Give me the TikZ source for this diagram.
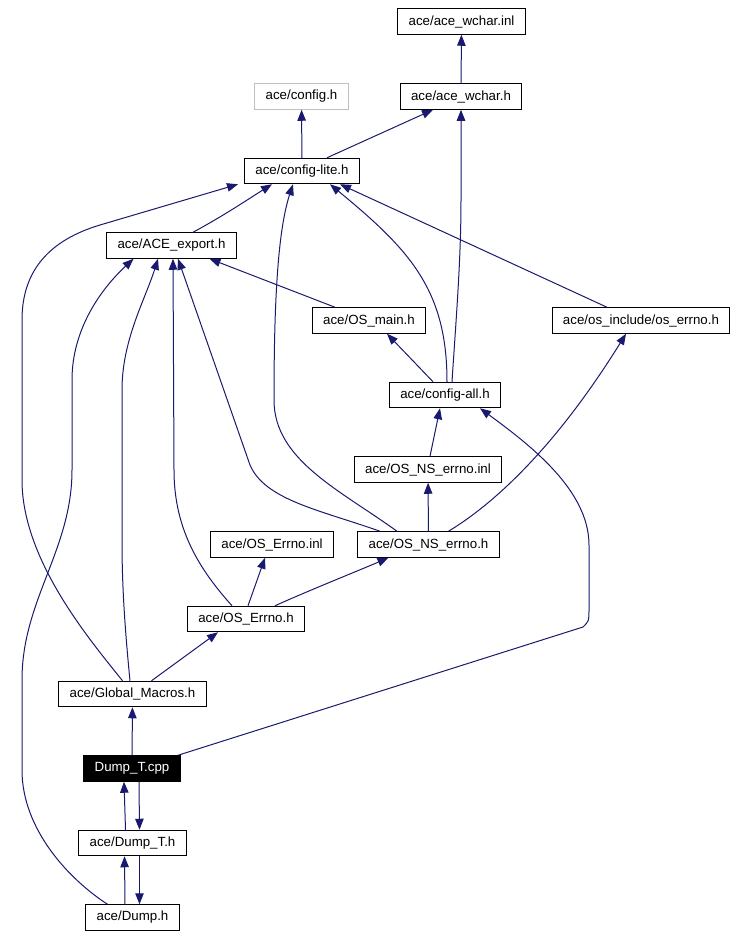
\documentclass[tikz,border=0pt]{standalone}
\usepackage{fontspec}
\setmainfont{Liberation Sans}
\usepackage{tikz}
\usetikzlibrary{arrows.meta,positioning}
\definecolor{incblue}{RGB}{25,25,112}
\definecolor{extgray}{RGB}{191,191,191}
\tikzset{
  file/.style={draw=black,line width=1pt,rectangle,font=\fontsize{13.3}{16}\selectfont,
    inner xsep=10.8pt,inner ysep=0pt,minimum height=25.5pt},
  extfile/.style={file,draw=extgray},
  curfile/.style={file,fill=black,text=white},
  inc/.style={draw=incblue,line width=1pt,-{Triangle[length=11pt,width=8.5pt]}}
}

\begin{document}
\begin{tikzpicture}[x=1pt,y=-1pt]
  \useasboundingbox (0,0) rectangle (738,938);

  \node[file] (wcharinl) at (461.5,21.5) {ace/ace\_wchar.inl};
  \node[file] (wcharh) at (461,96.5) {ace/ace\_wchar.h};
  \node[extfile] (config) at (301.5,96.5) {ace/config.h};
  \node[file] (configlite) at (302,171) {ace/config-lite.h};
  \node[file] (aceexport) at (171.5,245.5) {ace/ACE\_export.h};
  \node[file] (osmain) at (369,320.5) {ace/OS\_main.h};
  \node[file] (oserrno) at (641,320.5) {ace/os\_include/os\_errno.h};
  \node[file] (configall) at (445,395) {ace/config-all.h};
  \node[file] (nserrnoinl) at (428,469.5) {ace/OS\_NS\_errno.inl};
  \node[file] (nserrnoh) at (428.5,544.5) {ace/OS\_NS\_errno.h};
  \node[file] (errnoinl) at (272,544.5) {ace/OS\_Errno.inl};
  \node[file] (errnoh) at (246,619) {ace/OS\_Errno.h};
  \node[file] (globmacros) at (132.5,694) {ace/Global\_Macros.h};
  \node[curfile] (dumptcpp) at (132,768.5) {Dump\_T.cpp};
  \node[file] (dumpth) at (132.5,843) {ace/Dump\_T.h};
  \node[file] (dumph) at (132.5,917.5) {ace/Dump.h};

  \draw[inc] (wcharh) -- (wcharinl);
  \draw[inc] (configlite) -- (config);
  \draw[inc] ([xshift=25pt]configlite.north) -- ([xshift=-28pt]wcharh.south);
  \draw[inc] ([xshift=21.5pt]aceexport.north) .. controls (225,215) and (250,198) .. ([xshift=-30pt]configlite.south);
  \draw[inc] ([xshift=-10pt]globmacros.north) .. controls (90,640) and (22,560) .. (22,480)
    -- (22,320) .. controls (22,270) and (50,240) .. (100,225) -- ([xshift=-64pt]configlite.south);
  \draw[inc] ([xshift=-25pt]dumph.north) .. controls (70,880) and (22,830) .. (22,770)
    -- (22,680) .. controls (22,600) and (72,550) .. (72,470)
    -- (72,380) .. controls (72,330) and (100,290) .. ([xshift=-38pt]aceexport.south);
  \draw[inc] ([xshift=-2.5pt]globmacros.north) .. controls (124,620) and (122,580) .. (122,540)
    -- (122,390) .. controls (122,340) and (145,300) .. ([xshift=-13.5pt]aceexport.south);
  \draw[inc] ([xshift=-14pt]errnoh.north) .. controls (200,570) and (174,530) .. (174,470)
    -- ([xshift=1.5pt]aceexport.south);
  \draw[inc] ([xshift=-48.5pt]nserrnoh.north) .. controls (320,510) and (265,500) .. (250,465)
    -- ([xshift=6.5pt]aceexport.south);
  \draw[inc] ([xshift=-31.5pt]nserrnoh.north) .. controls (340,490) and (274,460) .. (274,400)
    .. controls (274,300) and (278,230) .. ([xshift=-9pt]configlite.south);
  \draw[inc] ([xshift=2pt]configall.north) .. controls (447,290) and (410,250) .. ([xshift=28pt]configlite.south);
  \draw[inc] ([xshift=-34pt]oserrno.north) -- ([xshift=38pt]configlite.south);
  \draw[inc] ([xshift=7pt]configall.north) .. controls (456,320) and (461,260) .. (461,200) -- (wcharh.south);
  \draw[inc] ([xshift=-12pt]configall.north) -- ([xshift=18pt]osmain.south);
  \draw[inc] ([xshift=-34pt]osmain.north) -- ([xshift=38pt]aceexport.south);
  \draw[inc] ([xshift=20pt]nserrnoh.north) .. controls (500,500) and (560,440) .. ([xshift=-15pt]oserrno.south);
  \draw[inc] ([xshift=2pt]nserrnoinl.north) -- ([xshift=-5pt]configall.south);
  \draw[inc] (nserrnoh) -- (nserrnoinl);
  \draw[inc] ([xshift=46pt]dumptcpp.north) -- (583,627) .. controls (589,621) .. (589,610)
    -- (589,545) .. controls (589,490) and (530,445) .. ([xshift=35pt]configall.south);
  \draw[inc] ([xshift=2pt]errnoh.north) -- ([xshift=-7pt]errnoinl.south);
  \draw[inc] ([xshift=29pt]errnoh.north) .. controls (310,590) and (360,570) .. ([xshift=-40pt]nserrnoh.south);
  \draw[inc] ([xshift=19pt]globmacros.north) -- ([xshift=-28pt]errnoh.south);
  \draw[inc] (dumptcpp) -- (globmacros);
  \draw[inc] ([xshift=-7pt]dumpth.north) -- ([xshift=-8pt]dumptcpp.south);
  \draw[inc] ([xshift=7pt]dumptcpp.south) -- ([xshift=7pt]dumpth.north);
  \draw[inc] ([xshift=-7.5pt]dumph.north) -- ([xshift=-8pt]dumpth.south);
  \draw[inc] ([xshift=7pt]dumpth.south) -- ([xshift=7pt]dumph.north);
\end{tikzpicture}
\end{document}
